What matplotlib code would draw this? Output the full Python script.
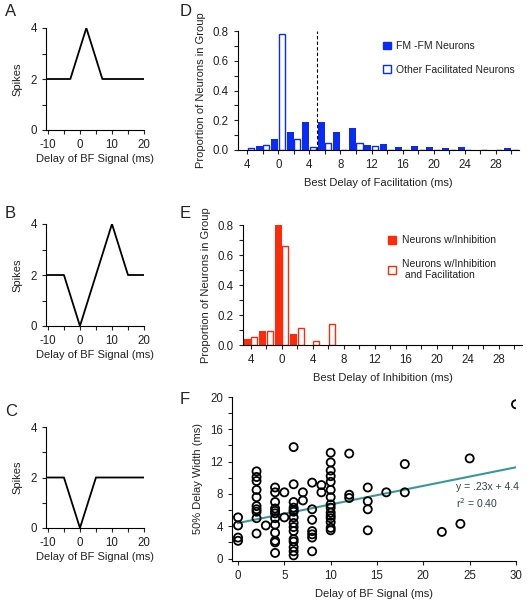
import numpy as np
import matplotlib
matplotlib.use("Agg")
import matplotlib.pyplot as plt
from matplotlib.patches import Patch

plt.rcParams['font.family'] = ['Liberation Sans', 'DejaVu Sans']
plt.rcParams['axes.unicode_minus'] = False
plt.rcParams['text.color'] = '#222222'
plt.rcParams['axes.labelcolor'] = '#222222'
plt.rcParams['xtick.color'] = '#222222'
plt.rcParams['ytick.color'] = '#222222'

# schematic delay tuning curves (A, B, C)
delay_a = [-10, -3, 2, 7, 20]
spikes_a = [2, 2, 4, 2, 2]
delay_b = [-10, -5, 0, 10, 15, 20]
spikes_b = [2, 2, 0, 4, 2, 2]
delay_c = [-10, -5, 0, 5, 20]
spikes_c = [2, 2, 0, 2, 2]

# D: best delay of facilitation
bins_d = [-4, -2, 0, 2, 4, 6, 8, 10, 12, 14, 16, 18, 20, 22, 24, 26, 28, 30]
fmfm = [0.0, 0.029, 0.074, 0.123, 0.188, 0.188, 0.123, 0.147, 0.034, 0.040,
        0.020, 0.027, 0.020, 0.013, 0.020, 0.0, 0.0, 0.013]
other_fac = [0.016, 0.031, 0.778, 0.072, 0.018, 0.045, 0.0, 0.045, 0.029, 0.0,
             0.0, 0.0, 0.0, 0.0, 0.0, 0.0, 0.0, 0.0]

# E: best delay of inhibition
bins_e = [-4, -2, 0, 2, 4, 6]
inhib = [0.040, 0.096, 0.800, 0.071, 0.0, 0.0]
inhib_fac = [0.051, 0.091, 0.658, 0.113, 0.029, 0.138]

# F: 50% delay width vs delay of BF signal
bf_delay = ([0] * 4 + [2] * 10 + [3] + [4] * 12 + [5] * 2 + [6] * 15 + [7] * 2 +
            [8] * 7 + [9] * 2 + [10] * 15 + [12] * 3 + [14] * 4 + [16] + [18] * 2 +
            [22, 24, 25, 30])
width50 = ([5.1, 4.1, 2.6, 2.2] +
           [10.8, 10.1, 9.6, 8.5, 7.6, 6.5, 6.1, 5.8, 5.0, 3.1] +
           [4.1] +
           [8.8, 8.2, 7.0, 6.2, 5.9, 5.6, 5.0, 4.2, 3.2, 2.2, 2.0, 0.7] +
           [8.2, 5.1] +
           [13.8, 9.2, 7.0, 6.3, 6.0, 5.8, 5.1, 4.4, 3.9, 3.4, 2.4, 2.1, 1.4, 0.9, 0.4] +
           [8.2, 7.2] +
           [9.4, 6.1, 4.8, 3.4, 3.0, 2.6, 0.9] +
           [9.1, 8.2] +
           [13.1, 11.9, 10.9, 10.2, 9.5, 8.5, 7.6, 6.7, 6.3, 5.7, 5.3, 5.0, 4.5, 3.8, 3.5] +
           [13.0, 7.9, 7.5] +
           [8.8, 7.1, 6.1, 3.5] +
           [8.2] +
           [11.7, 8.2] +
           [3.3, 4.3, 12.4, 19.1])
slope, intercept = 0.23, 4.4

blue = '#0a2bf5'
red = '#ff2a0a'
teal = '#3a9898'

fig = plt.figure(figsize=(5.27, 6.0), dpi=100)
W, H = 527.0, 600.0


def add_axes(left, right, top, bottom):
    return fig.add_axes([left / W, 1 - bottom / H, (right - left) / W, (bottom - top) / H])


def style(ax):
    for s in ['top', 'right']:
        ax.spines[s].set_visible(False)
    for s in ['left', 'bottom']:
        ax.spines[s].set_linewidth(0.8)
    ax.tick_params(which='both', direction='out', labelsize=8.3, width=0.8, length=3)


def spike_panel(ax, x, y):
    ax.plot(x, y, color='black', lw=1.3)
    ax.set_xlim(-10.6, 20)
    ax.set_ylim(0, 4)
    ax.set_xticks([-10, 0, 10, 20])
    ax.set_xticks([-5, 5, 15], minor=True)
    ax.set_yticks([0, 2, 4])
    ax.set_yticks([1, 3], minor=True)
    style(ax)
    ax.set_ylabel('Spikes', fontsize=8, labelpad=6)
    ax.set_xlabel('Delay of BF Signal (ms)', fontsize=8, labelpad=2)


ax_a = add_axes(46, 144, 28, 130)
spike_panel(ax_a, delay_a, spikes_a)
ax_b = add_axes(46, 144, 224, 326)
spike_panel(ax_b, delay_b, spikes_b)
ax_c = add_axes(46, 144, 427, 528)
spike_panel(ax_c, delay_c, spikes_c)


def hist_panel(ax, bins, filled, opened, color, xlabel):
    b = np.array(bins)
    ax.bar(b - 0.47, filled, width=0.9, color=color, edgecolor='none')
    ax.bar(b + 0.45, opened, width=0.78, facecolor='white', edgecolor=color, linewidth=1.0)
    ax.set_ylim(0, 0.8)
    ax.set_yticks([0, 0.2, 0.4, 0.6, 0.8])
    ax.set_yticklabels(['0.0', '0.2', '0.4', '0.6', '0.8'])
    ax.set_yticks([0.1, 0.3, 0.5, 0.7], minor=True)
    ticks = list(range(-4, 29, 4))
    ax.set_xticks(ticks)
    ax.set_xticklabels([str(abs(t)) for t in ticks])
    ax.set_xticks(list(range(-2, 31, 4)), minor=True)
    style(ax)
    ax.set_ylabel('Proportion of Neurons in Group', fontsize=8, labelpad=5)
    ax.set_xlabel(xlabel, fontsize=8, labelpad=5)


ax_d = add_axes(238, 519, 31, 150)
hist_panel(ax_d, bins_d, fmfm, other_fac, blue, 'Best Delay of Facilitation (ms)')
ax_d.set_xlim(-5.2, 31)
ax_d.plot([5, 5], [0, 0.8], color='black', lw=0.8, ls=(0, (3, 2)))
ax_d.legend(handles=[Patch(facecolor=blue, edgecolor=blue),
                     Patch(facecolor='white', edgecolor=blue, linewidth=1.0)],
            labels=['FM -FM Neurons', 'Other Facilitated Neurons'],
            loc='upper left', bbox_to_anchor=(0.5, 0.95), frameon=False,
            fontsize=7.5, handlelength=0.8, handleheight=0.8, handletextpad=0.5,
            labelspacing=1.3, borderaxespad=0)

ax_e = add_axes(243, 522, 225, 345)
hist_panel(ax_e, bins_e, inhib, inhib_fac, red, 'Best Delay of Inhibition (ms)')
ax_e.set_xlim(-5.0, 31)
ax_e.legend(handles=[Patch(facecolor=red, edgecolor=red),
                     Patch(facecolor='white', edgecolor=red, linewidth=1.0)],
            labels=['Neurons w/Inhibition', 'Neurons w/Inhibition\n and Facilitation'],
            loc='upper left', bbox_to_anchor=(0.505, 0.95), frameon=False,
            fontsize=7.5, handlelength=0.8, handleheight=0.8, handletextpad=0.5,
            labelspacing=1.3, borderaxespad=0)

ax_f = add_axes(232, 516, 397, 561)
ax_f.scatter(bf_delay, width50, s=34, facecolors='none', edgecolors='black',
             linewidths=1.3, zorder=3)
xf = np.array([0, 30])
ax_f.plot(xf, slope * xf + intercept, color=teal, lw=1.5, zorder=2)
ax_f.set_xlim(-0.65, 30)
ax_f.set_ylim(-0.3, 20)
ax_f.set_xticks([0, 5, 10, 15, 20, 25, 30])
ax_f.set_yticks([0, 4, 8, 12, 16, 20])
ax_f.set_yticks([2, 6, 10, 14, 18], minor=True)
style(ax_f)
ax_f.set_ylabel('50% Delay Width (ms)', fontsize=8, labelpad=5)
ax_f.set_xlabel('Delay of BF Signal (ms)', fontsize=8, labelpad=5)
ax_f.text(23.5, 8.5, 'y = .23x + 4.4', fontsize=7.5, color='#2f4545')
ax_f.text(23.5, 6.3, 'r$^2$ = 0.40', fontsize=7.5, color='#2f4545')

for letter, x, y in [('A', 5, 12), ('B', 5, 213), ('C', 5, 412),
                     ('D', 180, 12), ('E', 180, 213), ('F', 180, 400)]:
    fig.text(x / W, 1 - y / H, letter, fontsize=12, ha='left', va='center')

fig.savefig('out.png', dpi=100)
